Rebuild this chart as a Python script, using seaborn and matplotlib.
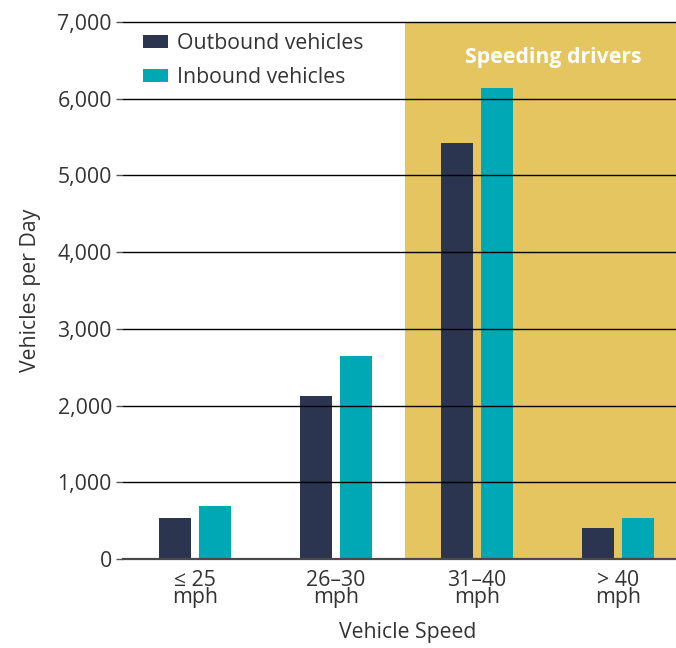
import matplotlib
matplotlib.use("Agg")
import matplotlib.pyplot as plt
import seaborn as sns
import pandas as pd
from matplotlib.patches import Patch
from matplotlib.ticker import FuncFormatter

# Daily vehicle counts by speed band
speed_bands = ["\u2264 25\nmph", "26\u201330\nmph", "31\u201340\nmph", "> 40\nmph"]
outbound = [540, 2130, 5420, 410]
inbound = [690, 2650, 6140, 530]
series_names = ["Outbound vehicles", "Inbound vehicles"]
series_colors = ["#2B3550", "#00A7B5"]
speeding_color = "#E4C55F"
yticks = [0, 1000, 2000, 3000, 4000, 5000, 6000, 7000]

df = pd.DataFrame({
    "speed": speed_bands * 2,
    "direction": [series_names[0]] * 4 + [series_names[1]] * 4,
    "vehicles": outbound + inbound,
})

sns.set_style("white")
plt.rcParams["font.family"] = ["Open Sans", "DejaVu Sans"]
text_color = "#333333"
fs = 15.3

fig = plt.figure(figsize=(6.76, 6.48), dpi=100)
ax = fig.add_axes([0.182, 0.1373, 0.818, 0.8287])

sns.barplot(data=df, x="speed", y="vehicles", hue="direction",
            order=speed_bands, hue_order=series_names,
            palette=series_colors, width=0.567, gap=0.2,
            linewidth=0, saturation=1, ax=ax, legend=False)

ax.set_xlim(-0.51, 3.41)
ax.set_ylim(0, 7000)

# Highlighted band for speeds above the limit
ax.axvspan(1.487, 3.41, color=speeding_color, zorder=0, lw=0)
ax.text(2.54, 6540, "Speeding drivers", color="white", fontsize=fs,
        fontweight="bold", ha="center", va="center")

# Horizontal reference lines drawn over the bars
for v in yticks[1:]:
    ax.axhline(v, color="black", lw=1.0, zorder=5, clip_on=False)

ax.set_yticks(yticks)
ax.yaxis.set_major_formatter(FuncFormatter(lambda v, p: f"{int(v):,}"))
ax.tick_params(axis="y", left=True, length=5, width=1, color="#555555",
               labelsize=fs, labelcolor=text_color, pad=3)
ax.tick_params(axis="x", bottom=False, length=0, labelsize=fs,
               labelcolor=text_color, pad=8)
for lab in ax.get_xticklabels():
    lab.set_linespacing(0.75)

for s in ["top", "right", "left"]:
    ax.spines[s].set_visible(False)
ax.spines["bottom"].set_color("#4a4a4a")
ax.spines["bottom"].set_linewidth(1.6)
ax.spines["bottom"].set_zorder(6)

ax.set_xlabel("Vehicle Speed", fontsize=fs, color=text_color)
ax.set_ylabel("Vehicles per Day", fontsize=fs, color=text_color)
ax.xaxis.set_label_coords(0.514, -0.118)
ax.yaxis.set_label_coords(-0.148, 0.5)

handles = [Patch(facecolor=c, edgecolor="none") for c in series_colors]
ax.legend(handles, series_names, loc="upper left",
          bbox_to_anchor=(0.02, 0.995), frameon=False, fontsize=fs,
          handlelength=1.2, handleheight=0.57, handletextpad=0.4,
          labelspacing=0.62, labelcolor=text_color, borderaxespad=0)

fig.savefig("out.png", dpi=100)
